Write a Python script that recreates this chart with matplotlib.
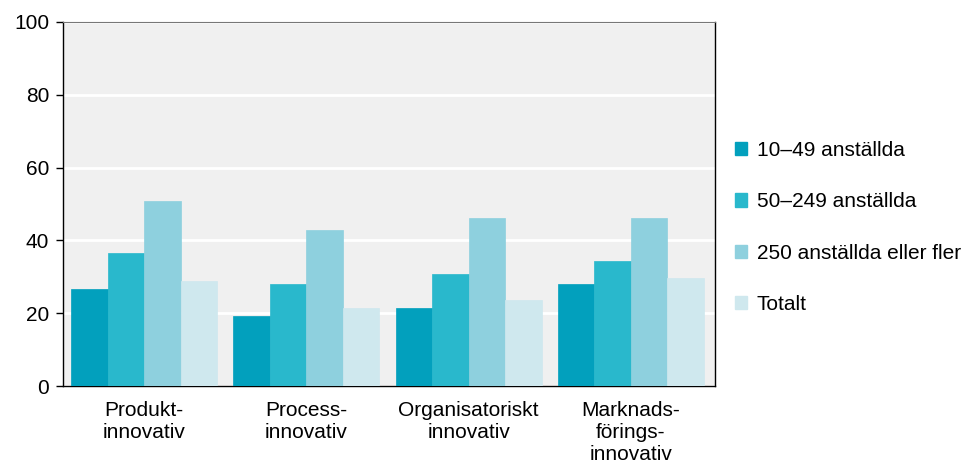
import numpy as np
from matplotlib import pyplot as plt
from matplotlib.patches import Patch

plt.rcParams['font.family'] = ['Liberation Sans', 'DejaVu Sans']

categories = ['Produkt-\ninnovativ', 'Process-\ninnovativ', 'Organisatoriskt\ninnovativ', 'Marknads-\nförings-\ninnovativ']
series_names = ['10\u201349 anställda', '50\u2013249 anställda', '250 anställda eller fler', 'Totalt']
small = [26.6, 19.3, 21.4, 28.0]
medium = [36.6, 28.1, 30.7, 34.4]
large = [50.7, 42.9, 46.1, 46.1]
total = [29.0, 21.5, 23.6, 29.7]
colors = ['#02a0bd', '#29b8cc', '#8ed0de', '#cfe8ee']

fig = plt.figure(figsize=(9.65, 4.68), dpi=100)
ax = fig.add_axes([0.0653, 0.175, 0.676, 0.778])
ax.set_facecolor('#f0f0f0')

x = np.arange(len(categories))
w = 0.225
for i, vals in enumerate([small, medium, large, total]):
    ax.bar(x + (i - 1.5) * w, vals, w, color=colors[i], edgecolor=colors[i],
           linewidth=0.5, zorder=3)

ax.set_xlim(-0.5, 3.52)
ax.set_ylim(0, 100)
ax.set_yticks([0, 20, 40, 60, 80, 100])
ax.grid(axis='y', color='white', linewidth=2, zorder=1)
ax.set_xticks(x)
ax.set_xticklabels(categories, fontsize=15, linespacing=1.2)
ax.tick_params(axis='x', length=0, pad=11)
ax.tick_params(axis='y', labelsize=15, length=5, width=1, direction='out', pad=5)

for s in ['left', 'bottom', 'right']:
    ax.spines[s].set_color('black')
    ax.spines[s].set_linewidth(1)
ax.spines['top'].set_color('#777777')

handles = [Patch(facecolor=c, edgecolor=c) for c in colors]
fig.legend(handles, series_names, loc='center left', bbox_to_anchor=(0.7615, 0.514),
           frameon=False, fontsize=15, handlelength=0.6, handleheight=0.6,
           handletextpad=0.45, labelspacing=1.55, borderaxespad=0, borderpad=0)

fig.savefig('out.png', dpi=100)
